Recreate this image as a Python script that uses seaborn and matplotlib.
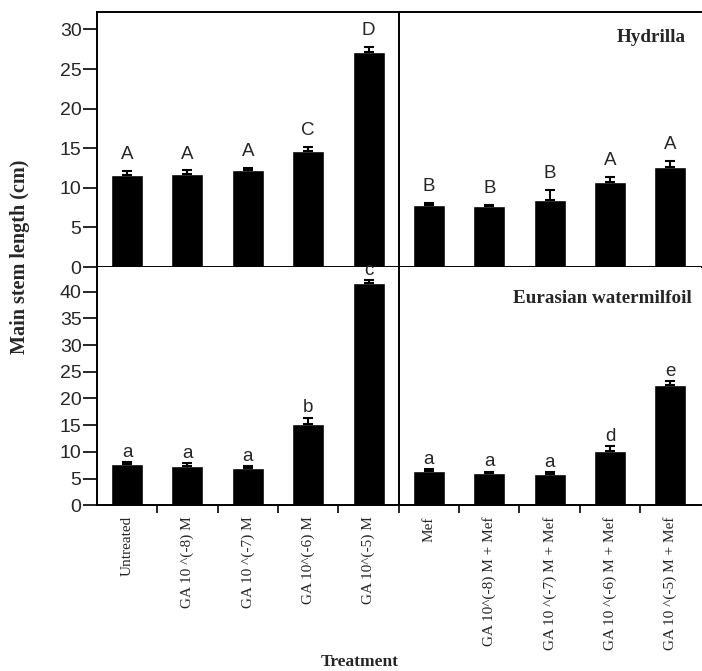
import pandas as pd
import numpy as np
import matplotlib
matplotlib.use("Agg")
import matplotlib.pyplot as plt
import seaborn as sns

treatments = ["Untreated", "GA 10 ^(-8) M", "GA 10 ^(-7) M", "GA 10^(-6) M", "GA 10^(-5) M",
              "Mef", "GA 10^(-8) M + Mef", "GA 10 ^(-7) M + Mef", "GA 10 ^(-6) M + Mef",
              "GA 10 ^(-5) M + Mef"]
hyd_mean = [11.6, 11.8, 12.2, 14.7, 27.1, 7.9, 7.7, 8.5, 10.7, 12.6]
hyd_err = [0.5, 0.4, 0.3, 0.5, 0.7, 0.15, 0.1, 1.2, 0.7, 0.8]
hyd_letters = ["A", "A", "A", "C", "D", "B", "B", "B", "A", "A"]
ewm_mean = [7.7, 7.4, 7.0, 15.2, 41.6, 6.4, 6.1, 5.9, 10.2, 22.5]
ewm_err = [0.4, 0.5, 0.3, 1.2, 0.6, 0.3, 0.2, 0.3, 0.9, 0.8]
ewm_letters = ["a", "a", "a", "b", "c", "a", "a", "a", "d", "e"]

serif = "Liberation Serif"
sans = "Liberation Sans"

sns.set_style("ticks")
plt.rcParams["font.family"] = [sans, "DejaVu Sans"]

fig = plt.figure(figsize=(7.02, 6.71), dpi=100)
ax1 = fig.add_axes([0.138, 0.602, 0.86, 0.380])
ax2 = fig.add_axes([0.138, 0.247, 0.86, 0.355])

panels = [
    (ax1, hyd_mean, hyd_err, hyd_letters, 32.2, range(0, 31, 5), "Hydrilla", 0.975, 0.9, 8.6),
    (ax2, ewm_mean, ewm_err, ewm_letters, 44.6, range(0, 41, 5), "Eurasian watermilfoil",
     0.985, 0.87, 3.8),
]

for ax, mean, err, letters, ymax, yt, title, tx, ty, gap in panels:
    df = pd.DataFrame({"Treatment": treatments, "Length": mean})
    sns.barplot(data=df, x="Treatment", y="Length", color="black", width=0.53,
                saturation=1, ax=ax)
    x = np.arange(len(treatments))
    ax.errorbar(x, mean, yerr=[np.zeros(len(err)), err], fmt="none", ecolor="black",
                elinewidth=1.5, capsize=3.8, capthick=1.5)
    ax.set_ylim(0, ymax)
    ax.set_xlim(-0.5, len(treatments) - 0.5)
    ax.set_yticks(list(yt))
    ax.tick_params(axis="y", labelsize=14, length=10, width=1.4, direction="out", pad=1)
    for tl in ax.get_yticklabels():
        tl.set_fontfamily(sans)
    for xi, m, e, lab in zip(x, mean, err, letters):
        ax.annotate(lab, (xi, m + e), xytext=(0, gap), textcoords="offset points",
                    ha="center", va="baseline", fontsize=13.5, family=sans,
                    annotation_clip=False)
    ax.axvline(4.5, color="black", lw=1.4)
    ax.text(tx, ty, title, transform=ax.transAxes,
            ha="right", va="center", fontsize=13.8, fontweight="bold", family=serif)
    ax.set_xlabel("")
    ax.set_ylabel("")
    for s in ax.spines.values():
        s.set_linewidth(1.4)
        s.set_color("black")

ax1.spines["right"].set_visible(False)
ax1.set_xticks([])
ax2.spines["top"].set_visible(False)
ax2.spines["right"].set_visible(False)

ax2.set_xticks(np.arange(len(treatments)))
ax2.set_xticklabels(treatments, rotation=90, fontsize=11, family=serif)
ax2.tick_params(axis="x", which="major", length=0, pad=8)
ax2.set_xticks(np.arange(0.5, len(treatments) - 0.5, 1), minor=True)
ax2.tick_params(axis="x", which="minor", length=6, width=1.4, direction="out")

fig.text(0.028, 0.617, "Main stem length (cm)", rotation=90, ha="center", va="center",
         fontsize=14.5, fontweight="bold", family=serif)
fig.text(0.513, 0.013, "Treatment", ha="center", va="center",
         fontsize=12.5, fontweight="bold", family=serif)

fig.savefig("out.png", dpi=100)
